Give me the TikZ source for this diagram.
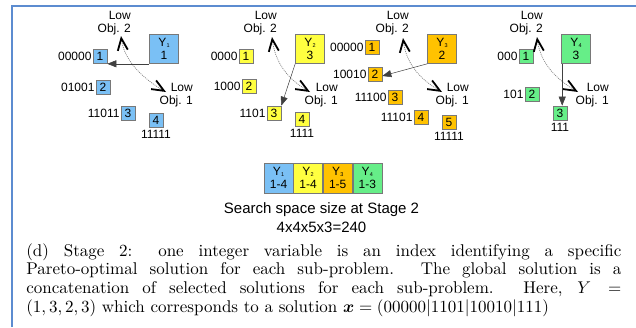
\documentclass[tikz,border=0pt]{standalone}
\usepackage{amsmath}
\usepackage{fontspec}
\newfontfamily\hv{Liberation Sans}
\usetikzlibrary{arrows.meta,calc}

\definecolor{frameblue}{RGB}{92,140,208}
\definecolor{cA}{RGB}{122,192,245}
\definecolor{cB}{RGB}{255,255,64}
\definecolor{cC}{RGB}{255,194,0}
\definecolor{cD}{RGB}{102,238,136}
\definecolor{boxline}{RGB}{120,120,120}

% Y with a small lowered index
\newcommand{\ysub}[1]{Y\kern0.3pt\raisebox{-1.3pt}{\fontsize{5.5}{6}\selectfont #1}}

\begin{document}
\begin{tikzpicture}[x=1pt,y=-1pt,
  txt/.style={font=\hv\fontsize{12}{13.5}\selectfont, inner sep=0pt},
  objlbl/.style={txt, anchor=east, align=right},
  idx/.style={draw=boxline, line width=0.6pt, fill=#1, minimum size=14pt,
              inner sep=0pt, font=\hv\fontsize{12}{13}\selectfont},
  ybox/.style={draw=boxline, line width=0.6pt, fill=#1, minimum width=29pt,
               minimum height=29pt, inner sep=0pt, align=center,
               font=\hv\fontsize{12}{13}\selectfont},
  pick/.style={draw=black!75, line width=0.5pt, -{Triangle[length=9pt,width=7pt]}},
  barb/.tip={Straight Barb[length=12pt,width=10pt,line width=1.8pt,black]},
  pareto/.style={draw=black!50, line width=0.7pt, dash pattern=on 1pt off 1pt, barb-barb}
]
\useasboundingbox (0,0) rectangle (636,327);

% frame
\draw[frameblue, line width=2pt] (12,327) -- (12,5.5) -- (636,5.5);

% ---- sub-problem 1
\node[ybox=cA] (y1) at (164,49) {\ysub{1}\\1};
\node[objlbl] (p1o2) at (131,23) {Low\\Obj. 2};
\node[objlbl] (p1o1) at (193,95) {Low\\Obj. 1};
\node[idx=cA] (b11) at (100,56) {1};
\node[idx=cA] (b12) at (103,87) {2};
\node[idx=cA] (b13) at (128,113) {3};
\node[idx=cA] (b14) at (156,120) {4};
\node[txt, anchor=east] (l11) at ([xshift=-1pt]b11.west) {00000};
\node[txt, anchor=east] (l12) at ([xshift=-1pt]b12.west) {01001};
\node[txt, anchor=east] (l13) at ([xshift=-1pt]b13.west) {11011};
\node[txt, anchor=north] (l14) at ([yshift=-3pt]b14.south) {11111};
\coordinate (t1a) at ($(y1)+(-43,-13)$);
\coordinate (t1b) at ($(y1)+(2,43)$);
\draw[pareto] (t1a) .. controls +(3,24) and +(-24,-14) .. (t1b);
\draw[pick] (y1.south west) -- (y1.south west -| b11.east);

% ---- sub-problem 2
\node[ybox=cB] (y2) at (310,49) {\ysub{2}\\3};
\node[objlbl] (p2o2) at (277,23) {Low\\Obj. 2};
\node[objlbl] (p2o1) at (338,95) {Low\\Obj. 1};
\node[idx=cB] (b21) at (246,56) {1};
\node[idx=cB] (b22) at (249,86) {2};
\node[idx=cB] (b23) at (274,113) {3};
\node[idx=cB] (b24) at (302,119) {4};
\node[txt, anchor=east] (l21) at ([xshift=-1pt]b21.west) {0000};
\node[txt, anchor=east] (l22) at ([xshift=-1pt]b22.west) {1000};
\node[txt, anchor=east] (l23) at ([xshift=-1pt]b23.west) {1101};
\node[txt, anchor=north] (l24) at ([yshift=-3pt]b24.south) {1111};
\coordinate (t2a) at ($(y2)+(-38,-12)$);
\coordinate (t2b) at ($(y2)+(0,43)$);
\draw[pareto] (t2a) .. controls +(3,24) and +(-24,-14) .. (t2b);
\draw[pick] (y2.south west) -- (b23.north east);

% ---- sub-problem 3
\node[ybox=cC] (y3) at (442,49) {\ysub{3}\\2};
\node[objlbl] (p3o2) at (409,23) {Low\\Obj. 2};
\node[objlbl] (p3o1) at (469,95) {Low\\Obj. 1};
\node[idx=cC] (b31) at (372,47) {1};
\node[idx=cC] (b32) at (375,74) {2};
\node[idx=cC] (b33) at (395,97) {3};
\node[idx=cC] (b34) at (421,117) {4};
\node[idx=cC] (b35) at (449,122) {5};
\node[txt, anchor=east] (l31) at ([xshift=-1pt]b31.west) {00000};
\node[txt, anchor=east] (l32) at ([xshift=-1pt]b32.west) {10010};
\node[txt, anchor=east] (l33) at ([xshift=-1pt]b33.west) {11100};
\node[txt, anchor=east] (l34) at ([xshift=-1pt]b34.west) {11101};
\node[txt, anchor=north] (l35) at ([yshift=-3pt]b35.south) {11111};
\coordinate (t3a) at ($(y3)+(-39,-11)$);
\coordinate (t3b) at ($(y3)+(0,43)$);
\draw[pareto] (t3a) .. controls +(3,24) and +(-24,-14) .. (t3b);
\draw[pick] (y3.south west) -- ([yshift=-2pt]b32.east);

% ---- sub-problem 4
\node[ybox=cD] (y4) at (576,49) {\ysub{4}\\3};
\node[objlbl] (p4o2) at (543,23) {Low\\Obj. 2};
\node[objlbl] (p4o1) at (609,95) {Low\\Obj. 1};
\node[idx=cD] (b41) at (526,56) {1};
\node[idx=cD] (b42) at (532,94) {2};
\node[idx=cD] (b43) at (560,113) {3};
\node[txt, anchor=east] (l41) at ([xshift=-1pt]b41.west) {000};
\node[txt, anchor=east] (l42) at ([xshift=-1pt]b42.west) {101};
\node[txt, anchor=north] (l43) at ([yshift=-3pt]b43.south) {111};
\coordinate (t4a) at ($(y4)+(-39,-12)$);
\coordinate (t4b) at ($(y4)+(2,43)$);
\draw[pareto] (t4a) .. controls +(3,24) and +(-24,-14) .. (t4b);
\draw[pick] ([xshift=1pt]y4.south west) -- ([xshift=1pt]y4.south west |- b43.north);

% ---- stage-2 chromosome
\node[ybox=cA, minimum height=30pt] (s1) at (278.5,178) {\ysub{1}\\1-4};
\node[ybox=cB, minimum height=30pt, anchor=west] (s2) at (s1.east) {\ysub{2}\\1-4};
\node[ybox=cC, minimum height=30pt, anchor=west] (s3) at (s2.east) {\ysub{3}\\1-5};
\node[ybox=cD, minimum height=30pt, anchor=west] (s4) at (s3.east) {\ysub{4}\\1-3};
\node[inner sep=0pt, align=center, anchor=north, font=\hv\fontsize{15}{19}\selectfont]
  (space) at (321.5,202) {Search space size at Stage 2\\4x4x5x3=240};

% ---- caption, set at 10pt and enlarged
\node[anchor=north west, inner sep=0pt, scale=1.7, transform shape,
      text width=350pt, align=justify,
      font=\fontsize{10}{11}\selectfont] (cap) at (26,243)
  {(d) Stage 2: one integer variable is an index identifying a specific\linebreak
   Pareto-optimal solution for each sub-problem. The global solution is a\linebreak
   concatenation of selected solutions for each sub-problem. Here, $Y=$\linebreak
   $(1,3,2,3)$ which corresponds to a solution $\boldsymbol{x}=(00000|1101|10010|111)$};
\end{tikzpicture}
\end{document}
